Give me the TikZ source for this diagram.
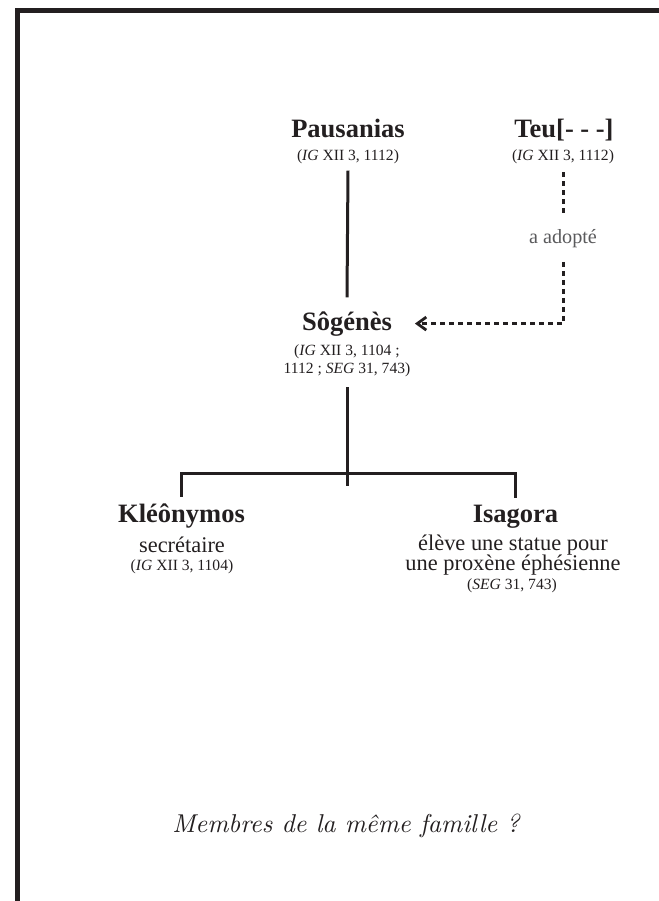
\documentclass[tikz,border=0pt]{standalone}
\usepackage{fontspec}
\setmainfont{Liberation Serif}
\newfontfamily\lmfont{lmroman10}[Extension=.otf,UprightFont=*-regular,ItalicFont=*-italic,BoldFont=*-bold]
\usetikzlibrary{arrows.meta,calc}
\definecolor{ink}{HTML}{231F20}
\definecolor{greyink}{HTML}{5A5A5C}
\begin{document}
\begin{tikzpicture}[x=0.5pt,y=-0.5pt,
  every node/.style={inner sep=0pt,outer sep=0pt,text=ink,anchor=base},
  person/.style={font=\fontsize{13.25pt}{15pt}\selectfont\bfseries},
  cite/.style={font=\fontsize{7.8pt}{9pt}\selectfont},
  role/.style={font=\fontsize{11.2pt}{13pt}\selectfont},
  adoptlabel/.style={font=\fontsize{10.1pt}{12pt}\selectfont,text=greyink},
  titletext/.style={font=\lmfont\itshape\fontsize{12.9pt}{15pt}\selectfont},
  link/.style={draw=ink,line width=1.5pt},
  adoptlink/.style={draw=ink,line width=1.5pt,dash pattern=on 2.5pt off 2pt},
  frameline/.style={draw=ink,line width=2.6pt,line join=miter}]
\useasboundingbox (0,0) rectangle (659,901);
% frame corner
\coordinate (frTR) at (659,10.5);
\coordinate (frTL) at (17.5,10.5);
\coordinate (frBL) at (17.5,901);
\draw[frameline] (frTR) -- (frTL) -- (frBL);
% nodes
\node[person] (paus) at (348,137) {Pausanias};
\node[cite] (pauscit) at (348,160) {(\textit{IG} XII 3, 1112)};
\node[person] (teu) at (564,137) {Teu[- - -]};
\node[cite] (teucit) at (563,160) {(\textit{IG} XII 3, 1112)};
\node[adoptlabel] (adopt) at (563,243) {a adopté};
\node[person] (sog) at (347,330) {Sôgénès};
\node[cite] (sogcitA) at (347,355) {(\textit{IG} XII 3, 1104 ;};
\node[cite] (sogcitB) at (347,373) {1112 ; \textit{SEG} 31, 743)};
\node[person] (kleo) at (181.5,522) {Kléônymos};
\node[role] (kleorole) at (182,552) {secrétaire};
\node[cite] (kleocit) at (182,570) {(\textit{IG} XII 3, 1104)};
\node[person] (isa) at (515.5,522) {Isagora};
\node[role] (isaroleA) at (513,550) {élève une statue pour};
\node[role] (isaroleB) at (513,570) {une proxène éphésienne};
\node[cite] (isacit) at (512,589) {(\textit{SEG} 31, 743)};
\node[titletext] (title) at (346,832) {Membres de la même famille ?};
% connectors
\draw[link] ([yshift=-3.6pt]pauscit.south) -- ([yshift=7pt]sog.north);
\draw[link] ([yshift=-5.5pt]sogcitB.south) -- ++(0,98.5);
\draw[link] ([yshift=3.2pt]kleo.north) -- ++(0,-23.5) -| ([yshift=3.4pt]isa.north);
\draw[adoptlink] ([yshift=-4.5pt]teucit.south) -- ([yshift=6pt]adopt.north);
\draw[adoptlink,-{Straight Barb[length=4.5pt,width=6.5pt,line width=1.4pt]}] ([yshift=-7.3pt]adopt.south) |- ([xshift=11.5pt]sog.east);
\end{tikzpicture}
\end{document}
